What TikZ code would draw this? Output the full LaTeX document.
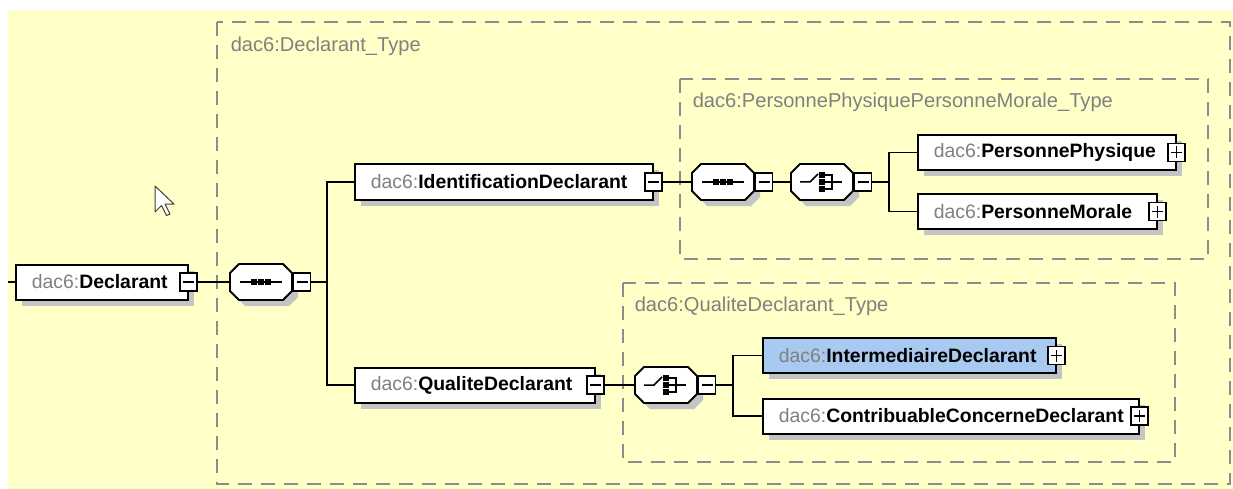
\documentclass[tikz,border=0pt]{standalone}
\usepackage{fontspec}
\setmainfont{Liberation Sans}
\definecolor{bgyellow}{RGB}{255,255,200}
\definecolor{shgray}{RGB}{196,196,196}
\definecolor{pfxgray}{RGB}{128,128,128}
\definecolor{dashgray}{RGB}{140,140,140}
\definecolor{selblue}{RGB}{168,202,240}
\newcommand{\dac}[1]{{\color{pfxgray}dac6:}\textbf{#1}}
\newcommand{\octshape}[1]{%
  \begin{scope}[shift={(#1.center)}]
    \fill[shgray] (-16,-12) -- (28,-12) -- (37,-3) -- (37,15) -- (28,24) -- (-16,24) -- (-25,15) -- (-25,-3) -- cycle;
    \filldraw[fill=white, line width=1.8pt] (-22,-18) -- (22,-18) -- (31,-9) -- (31,9) -- (22,18) -- (-22,18) -- (-31,9) -- (-31,-9) -- cycle;
  \end{scope}}
\newcommand{\seqsym}[1]{%
  \begin{scope}[shift={(#1.center)}]
    \draw[line width=1.5pt] (-21,0) -- (21,0);
    \foreach \i in {-7,0,7} \fill (\i-2.6,-2.6) rectangle ++(5.2,5.2);
  \end{scope}}
\newcommand{\choicesym}[1]{%
  \begin{scope}[shift={(#1.center)}, line width=1.5pt]
    \draw (-22,0) -- (-12,0) -- (-4,-8);
    \foreach \i in {-7,0,7} \fill (-2.6,\i-2.6) rectangle ++(5.2,5.2);
    \draw (2,-7) -- (10,-7) -- (10,7) -- (2,7);
    \draw (2,0) -- (20,0);
  \end{scope}}
\tikzset{
  elem/.style = {fill=white, minimum height=35pt, inner xsep=16pt, inner ysep=0,
    align=left, anchor=west, font=\fontsize{19.4}{22}\selectfont,
    preaction={fill=shgray, draw=none, transform canvas={xshift=6pt, yshift=-6pt}},
    postaction={draw=black, line width=2pt}},
  oct/.style = {rectangle, minimum width=62pt, minimum height=36pt, inner sep=0},
  mbox/.style = {draw, fill=white, line width=1.5pt, minimum width=17pt, minimum height=18pt, inner sep=0,
    path picture={\draw[line width=1.5pt] ([xshift=3pt]path picture bounding box.west) -- ([xshift=-3pt]path picture bounding box.east);}},
  pbox/.style = {mbox, path picture={
    \draw[line width=1.5pt] ([xshift=3pt]path picture bounding box.west) -- ([xshift=-3pt]path picture bounding box.east);
    \draw[line width=1.5pt] ([yshift=3pt]path picture bounding box.south) -- ([yshift=-3pt]path picture bounding box.north);}},
  typebox/.style = {draw=dashgray, line width=1.6pt, dash pattern=on 14pt off 9pt},
  typelabel/.style = {anchor=base west, text=pfxgray, font=\fontsize{20.1}{23}\selectfont, inner sep=0}
}
\begin{document}
\begin{tikzpicture}[x=1pt, y=-1pt, line width=1.6pt]
  \useasboundingbox (0,0) rectangle (1233,489);
  \fill[white] (0,0) rectangle (1233,489);
  \fill[bgyellow] (8,10) rectangle (1233,489);

  \draw[typebox] (217,22) rectangle (1230,484);
  \node[typelabel] (decltype) at (230,52) {dac6:Declarant\_Type};
  \draw[typebox] (680,79) rectangle (1208,259);
  \node[typelabel] (pptype) at (692,108) {dac6:PersonnePhysiquePersonneMorale\_Type};
  \draw[typebox] (623,283) rectangle (1175,462);
  \node[typelabel] (qdtype) at (634,311) {dac6:QualiteDeclarant\_Type};

  \filldraw[fill=white, draw=black!75, line width=1pt, line join=round]
    (155,186) -- (155,212) -- (161.5,205.5) -- (166.5,215.5) -- (170,214) -- (165,204) -- (174,204) -- cycle;

  \node[elem, text width=140pt] (decl) at (15,282) {\dac{Declarant}};
  \node[mbox] (declm) at (decl.east) {};
  \node[oct] (seq1) at (261,282) {};
  \octshape{seq1}
  \node[mbox, anchor=west] (seq1m) at (seq1.east) {};
  \seqsym{seq1}

  \node[elem, text width=266pt] (idd) at (354,182) {\dac{IdentificationDeclarant}};
  \node[mbox] (iddm) at (idd.east) {};
  \node[elem, text width=208pt] (qd) at (354,385) {\dac{QualiteDeclarant}};
  \node[mbox] (qdm) at (qd.east) {};

  \node[oct] (seq2) at (723,182) {};
  \octshape{seq2}
  \node[mbox, anchor=west] (seq2m) at (seq2.east) {};
  \seqsym{seq2}
  \node[oct] (ch1) at (822,182) {};
  \octshape{ch1}
  \node[mbox, anchor=west] (ch1m) at (ch1.east) {};
  \choicesym{ch1}

  \node[elem, text width=226pt] (pp) at (917,152.5) {\dac{PersonnePhysique}};
  \node[pbox] (ppp) at (pp.east) {};
  \node[elem, text width=207pt] (pm) at (917,211.5) {\dac{PersonneMorale}};
  \node[pbox] (pmp) at (pm.east) {};

  \node[oct] (ch2) at (666,385) {};
  \octshape{ch2}
  \node[mbox, anchor=west] (ch2m) at (ch2.east) {};
  \choicesym{ch2}

  \node[elem, fill=selblue, text width=261pt] (inter) at (762,355.5) {\dac{IntermediaireDeclarant}};
  \node[pbox] (interp) at (inter.east) {};
  \node[elem, text width=344pt] (contrib) at (762,416) {\dac{ContribuableConcerneDeclarant}};
  \node[pbox] (contribp) at (contrib.east) {};

  \coordinate (lstub) at (8,282);
  \coordinate (t1) at (327,282);
  \coordinate (t2) at (889,182);
  \coordinate (t3) at (733,385);

  \draw (lstub) -- (decl.west);
  \draw (declm.east) -- (seq1.west);
  \draw (seq1m.east) -- (t1) |- (idd.west);
  \draw (t1) |- (qd.west);
  \draw (iddm.east) -- (seq2.west);
  \draw (seq2m.east) -- (ch1.west);
  \draw (ch1m.east) -- (t2) |- (pp.west);
  \draw (t2) |- (pm.west);
  \draw (qdm.east) -- (ch2.west);
  \draw (ch2m.east) -- (t3) |- (inter.west);
  \draw (t3) |- (contrib.west);
\end{tikzpicture}
\end{document}
